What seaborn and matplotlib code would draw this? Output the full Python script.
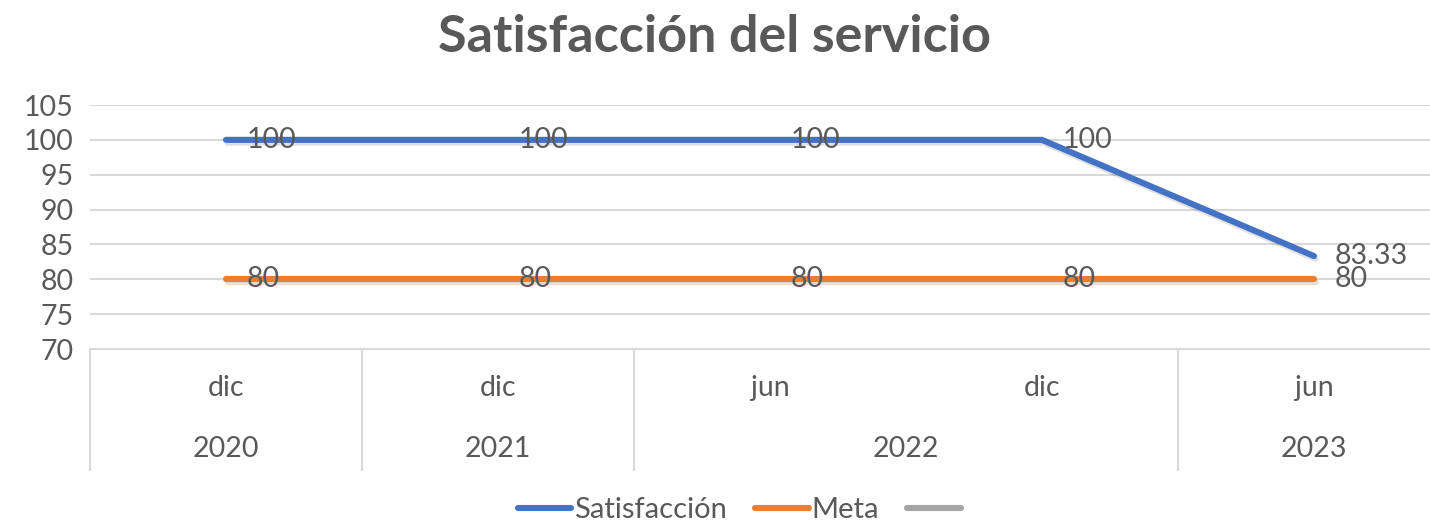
import numpy as np
import pandas as pd
import matplotlib
matplotlib.use("Agg")
import matplotlib.pyplot as plt
import matplotlib.patheffects as pe
from matplotlib.lines import Line2D
import matplotlib.transforms as mtransforms
import seaborn as sns

# ---- data ----
months = ["dic", "dic", "jun", "dic", "jun"]
years = ["2020", "2021", "2022", "2022", "2023"]
satisfaccion = [100, 100, 100, 100, 83.33]
meta = [80, 80, 80, 80, 80]
series_names = ["Satisfacción", "Meta", ""]
title = "Satisfacción del servicio"
yticks = [70, 75, 80, 85, 90, 95, 100, 105]

colors = ["#4472C4", "#ED7D31", "#A5A5A5"]
text_color = "#595959"
grid_color = "#D9D9D9"

sns.set_theme(style="white")
plt.rcParams["font.family"] = ["Lato", "DejaVu Sans"]

keys = [f"{m} {y}" for m, y in zip(months, years)]
df = pd.DataFrame({
    "periodo": keys * 2,
    "valor": satisfaccion + meta,
    "serie": [series_names[0]] * len(keys) + [series_names[1]] * len(keys),
})

W, H = 1430, 521
FS = 20.5
fig = plt.figure(figsize=(W / 100, H / 100), dpi=100)
left_px, right_px, top_px, bottom_px = 90, 1430, 105, 349
ax = fig.add_axes([left_px / W, 1 - bottom_px / H, (right_px - left_px) / W, (bottom_px - top_px) / H])

shadow = [pe.SimpleLineShadow(offset=(1.2, -2.0), shadow_color="black", alpha=0.12), pe.Normal()]
sns.lineplot(data=df, x="periodo", y="valor", hue="serie", palette=colors[:2],
             linewidth=4.4, ax=ax, legend=False, sort=False)
for line in ax.lines:
    line.set_solid_capstyle("round")
    line.set_solid_joinstyle("round")
    line.set_path_effects(shadow)
    line.set_zorder(3)

n = len(keys)
ax.set_xlim(-0.5, -0.5 + (right_px - left_px) / 272.0)
ax.set_ylim(70, 105)
ax.set_yticks(yticks)
ax.set_yticklabels([str(t) for t in yticks], fontsize=FS, color=text_color)
ax.tick_params(axis="y", length=0, pad=12)
ax.set_xticks([])
ax.set_xlabel("")
ax.set_ylabel("")
for s in ax.spines.values():
    s.set_visible(False)
ax.grid(axis="y", color=grid_color, linewidth=1.5)
ax.set_axisbelow(True)

# data labels
for vals in (satisfaccion, meta):
    for i, v in enumerate(vals):
        ax.annotate(f"{v:g}", (i, v), xytext=(15, 0), textcoords="offset points",
                    ha="left", va="center", fontsize=FS, color=text_color, zorder=5)

# multi-level category axis
trans = mtransforms.blended_transform_factory(ax.transData, ax.transAxes)
axis_h = bottom_px - top_px
y_bottom_line = -(470 - bottom_px) / axis_h
ax.plot([-0.5, 4.5], [0, 0], transform=trans, color=grid_color, linewidth=1.5, clip_on=False, zorder=1)
group_bounds = [-0.5]
for i in range(1, n):
    if years[i] != years[i - 1]:
        group_bounds.append(i - 0.5)
group_bounds.append(n - 0.5)
for b in group_bounds:
    ax.plot([b, b], [0, y_bottom_line], transform=trans, color=grid_color, linewidth=1.5, clip_on=False)

y_month = -(388 - bottom_px) / axis_h
y_year = -(449 - bottom_px) / axis_h
for i, m in enumerate(months):
    ax.text(i, y_month, m, transform=trans, ha="center", va="center", fontsize=FS, color=text_color)
unique_years = []
for i, y in enumerate(years):
    if not unique_years or unique_years[-1][0] != y:
        unique_years.append([y, i, i])
    else:
        unique_years[-1][2] = i
for y, a, b in unique_years:
    ax.text((a + b) / 2, y_year, y, transform=trans, ha="center", va="center", fontsize=FS, color=text_color)

# title
fig.text(0.5, 1 - 38 / H, title, ha="center", va="center", fontsize=37.5, fontweight="bold", color=text_color)

# legend
handles = [Line2D([0], [0], color=c, linewidth=4.4, solid_capstyle="round") for c in colors]
leg = fig.legend(handles, series_names, loc="center", bbox_to_anchor=(0.518, 1 - 510 / H), ncol=3,
                 frameon=False, fontsize=21, handlelength=1.85, handletextpad=0.1, columnspacing=0.95,
                 labelcolor=text_color)

fig.savefig("out.png", dpi=100)
